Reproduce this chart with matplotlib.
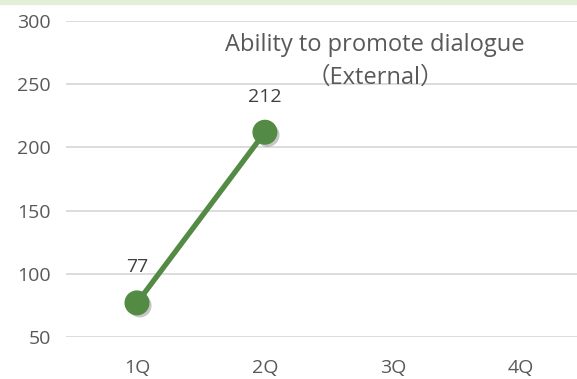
import matplotlib
matplotlib.use("Agg")
import matplotlib.pyplot as plt
import matplotlib.patheffects as pe
from matplotlib.patches import Rectangle

categories = ["1Q", "2Q", "3Q", "4Q"]
values = [77, 212]
labels = ["77", "212"]
yticks = [50, 100, 150, 200, 250, 300]

plt.rcParams['font.family'] = ['Open Sans', 'Noto Sans CJK JP', 'DejaVu Sans']

W, H = 577, 379
fig = plt.figure(figsize=(W/100, H/100), dpi=100)
fig.patches.append(Rectangle((0, 1 - 4/H), 1, 4/H, transform=fig.transFigure,
                             color="#E2F0D9", zorder=0))

left, right = 66/W, 577/W
top, bottom = 1 - 21/H, 1 - 337/H
ax = fig.add_axes([left, bottom, right - left, top - bottom])
ax.set_ylim(50, 300)
ax.set_xlim(-0.555, 3.44)
ax.set_yticks(yticks)
ax.set_xticks(range(len(categories)))
ax.set_xticklabels(categories)
ax.grid(axis='y', color="#D9D9D9", linewidth=1.3)
ax.set_axisbelow(True)
for s in ax.spines.values():
    s.set_visible(False)
ax.tick_params(length=0, labelsize=14, colors="#595959")
ax.tick_params(axis='y', pad=11)
ax.tick_params(axis='x', pad=16)

green = "#538B44"
ax.plot(range(len(values)), values, color=green, linewidth=3.8, marker='o',
        markersize=17, markerfacecolor=green, markeredgecolor=green,
        solid_capstyle='round', clip_on=False,
        path_effects=[pe.SimplePatchShadow(offset=(2, -2), shadow_rgbFace="#000000", alpha=0.22),
                      pe.Normal()])

for i, (v, t) in enumerate(zip(values, labels)):
    ax.annotate(t, (i, v), xytext=(0, 19), textcoords='offset points', ha='center',
                va='bottom', fontsize=14, color="#404040")

fig.text(375/W, 1 - 45/H, "Ability to promote dialogue", ha='center', va='center',
         fontsize=17, color="#595959")
fig.text(375/W, 1 - 78/H, "（External）", ha='center', va='center',
         fontsize=17, color="#595959")

fig.savefig("out.png", dpi=100)
